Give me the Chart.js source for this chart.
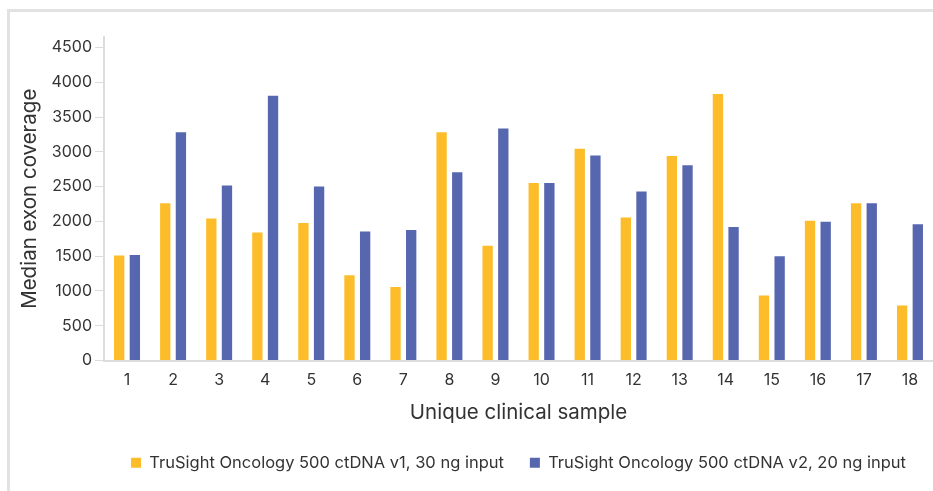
<!DOCTYPE html>
<html>
<head>
<meta charset="utf-8">
<script src="https://cdn.jsdelivr.net/npm/chart.js@4"></script>
<style>
    html, body { margin: 0; padding: 0; background: #fff; overflow: hidden; }
    .card {
        position: absolute; left: 7px; top: 9px; width: 960px; height: 520px;
        border-left: 3px solid #e2e2e2; border-top: 3px solid #e2e2e2;
    }
    .chart-box { position: absolute; left: 0; top: 0; width: 933px; height: 491px; }
</style>
</head>
<body>
<div class="card"></div>
<div class="chart-box"><canvas id="coverageChart"></canvas></div>
<script>
// Median exon coverage per clinical sample
const samples = ['1', '2', '3', '4', '5', '6', '7', '8', '9', '10', '11', '12', '13', '14', '15', '16', '17', '18'];
const v1Coverage = [1510, 2260, 2040, 1840, 1975, 1225, 1055, 3280, 1650, 2550, 3045, 2055, 2940, 3830, 935, 2010, 2260, 790];
const v2Coverage = [1515, 3280, 2515, 3805, 2500, 1855, 1875, 2705, 3335, 2550, 2945, 2430, 2805, 1920, 1500, 1995, 2260, 1960];
const seriesNames = ['TruSight Oncology 500 ctDNA v1, 30 ng input', 'TruSight Oncology 500 ctDNA v2, 20 ng input'];
const yTicks = [0, 500, 1000, 1500, 2000, 2500, 3000, 3500, 4000, 4500];

const textColor = '#333';
const axisColor = '#dcdcdc';

new Chart(document.getElementById('coverageChart'), {
    type: 'bar',
    data: {
        labels: samples,
        datasets: [
            { label: seriesNames[0], data: v1Coverage, backgroundColor: '#FDBD2B' },
            { label: seriesNames[1], data: v2Coverage, backgroundColor: '#5767AF' }
        ]
    },
    options: {
        responsive: true,
        maintainAspectRatio: false,
        animation: false,
        datasets: { bar: { categoryPercentage: 0.68, barPercentage: 0.66 } },
        layout: { padding: { top: 37, right: 0, bottom: 10, left: 0 } },
        scales: {
            x: {
                grid: { drawOnChartArea: false, drawTicks: false },
                border: { color: axisColor, width: 2 },
                ticks: { color: textColor, font: { family: 'Inter', size: 16 }, padding: 10 },
                title: {
                    display: true,
                    text: 'Unique clinical sample',
                    color: textColor,
                    font: { family: 'Inter', size: 20.5, lineHeight: 1.1 },
                    padding: { top: 0, bottom: 4 }
                },
                afterFit: scale => { scale.height = 68; }
            },
            y: {
                min: 0,
                max: 4650,
                grid: { drawOnChartArea: false, drawTicks: true, tickLength: 9, color: axisColor },
                border: { color: axisColor, width: 2 },
                ticks: {
                    color: textColor,
                    font: { family: 'Inter', size: 16 },
                    padding: 3,
                    callback: value => String(value)
                },
                afterBuildTicks: scale => {
                    scale.ticks = yTicks.map(v => ({ value: v }));
                },
                title: {
                    display: true,
                    text: 'Median exon coverage',
                    color: textColor,
                    font: { family: 'Inter', size: 20.5 },
                    padding: { top: 18, bottom: 0 }
                },
                afterFit: scale => { scale.width = 104; }
            }
        },
        plugins: {
            legend: {
                position: 'bottom',
                fullSize: false,
                labels: {
                    boxWidth: 10,
                    boxHeight: 10,
                    padding: 26,
                    color: textColor,
                    font: { family: 'Inter', size: 16.5 }
                }
            },
            tooltip: { enabled: false }
        }
    }
});
</script>
</body>
</html>
